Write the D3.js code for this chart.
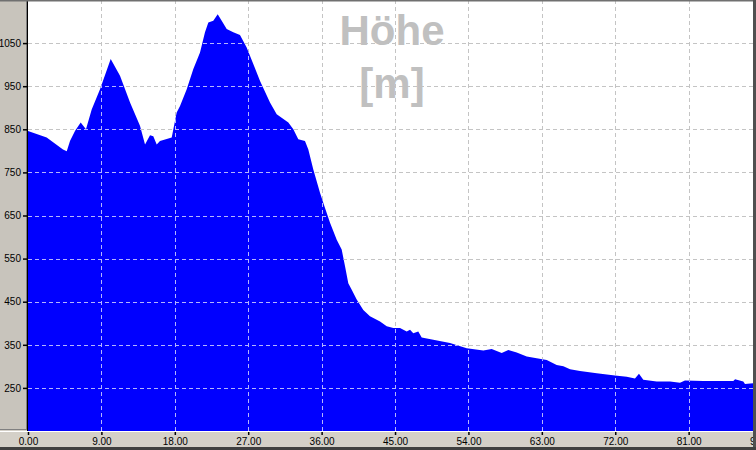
<!DOCTYPE html>
<html>
<head>
<meta charset="utf-8">
<script src="https://cdn.jsdelivr.net/npm/d3@7"></script>
<style>
  body { margin: 0; background: #d4d0c8; }
  svg { display: block; font-family: Arial, "Liberation Sans", sans-serif; }
</style>
</head>
<body>
<svg width="756" height="450"></svg>
<script>
// distance in km, elevation in m
var distance = [0.0, 2.29, 4.29, 4.75, 5.15, 5.76, 6.46, 7.11, 7.81, 8.83, 10.14, 11.28, 12.51, 13.73,
  14.35, 14.96, 15.36, 15.78, 16.18, 17.62, 18.23, 18.64, 19.46, 20.27, 21.09, 21.70, 22.11, 22.72,
  23.26, 23.75, 24.36, 25.17, 25.99, 26.81, 28.45, 29.67, 30.49, 31.92, 32.53, 33.14, 33.96, 34.37,
  34.98, 35.80, 36.21, 37.03, 37.85, 38.46, 38.87, 39.27, 39.69, 40.30, 41.11, 41.93, 43.16, 43.98,
  44.79, 45.61, 46.43, 46.84, 47.24, 47.85, 48.27, 49.69, 51.74, 53.79, 55.83, 56.85, 58.08, 58.89,
  59.92, 61.15, 62.37, 63.60, 64.82, 65.64, 66.46, 67.68, 69.73, 71.97, 73.41, 74.42, 74.91, 75.44,
  77.08, 78.72, 79.94, 80.55, 82.80, 86.48, 86.69, 87.70, 87.91, 88.89];
var elevation = [846, 831, 803, 799, 823, 846, 866, 850, 896, 943, 1013, 974, 912, 858,
  815, 836, 834, 815, 823, 831, 889, 904, 943, 990, 1028, 1075, 1098, 1102,
  1117, 1102, 1083, 1075, 1069, 1040, 962, 912, 885, 866, 850, 827, 823, 803,
  757, 703, 679, 633, 594, 571, 532, 493, 478, 455, 431, 416, 404, 393,
  389, 389, 381, 385, 377, 381, 367, 362, 354, 342, 337, 340, 331, 338,
  332, 323, 319, 315, 303, 300, 293, 289, 284, 279, 276, 272, 283, 269,
  265, 265, 262, 267, 266, 266, 270, 265, 259, 261];
var xTicks = [0, 9, 18, 27, 36, 45, 54, 63, 72, 81, 90];
var yTicks = [250, 350, 450, 550, 650, 750, 850, 950, 1050];
var titleLines = ["Höhe", "[m]"];

var svg = d3.select("svg"),
  width = +svg.attr("width"),
  height = +svg.attr("height"),
  plot = {left: 28, right: 753, top: 0, bottom: 431};

var data = distance.map(function(d, i) { return {km: d, h: elevation[i]}; });

var x = d3.scaleLinear()
  .domain([0, 88.89])
  .range([plot.left, plot.right]);

var y = d3.scaleLinear()
  .domain([150, 1150])
  .range([plot.bottom, plot.top]);

// frame pieces
svg.append("rect").attr("width", width).attr("height", height).attr("fill", "#d4d0c8");
svg.append("rect").attr("x", 0).attr("y", 0).attr("width", 26).attr("height", 429).attr("fill", "#c8c4bc");
svg.append("line").attr("x1", 26.5).attr("x2", 26.5).attr("y1", 0).attr("y2", 429).attr("stroke", "#808080");
svg.append("line").attr("x1", 0).attr("x2", 27).attr("y1", 429.5).attr("y2", 429.5).attr("stroke", "#808080");

svg.append("rect")
  .attr("x", plot.left).attr("y", plot.top)
  .attr("width", plot.right - plot.left).attr("height", plot.bottom - plot.top)
  .attr("fill", "#ffffff");

var area = d3.area()
  .x(function(d) { return x(d.km); })
  .y0(plot.bottom)
  .y1(function(d) { return y(d.h); });

svg.append("clipPath").attr("id", "under")
  .append("path").datum(data).attr("d", area);

function drawGrid(g, color) {
  g.selectAll(".gx")
    .data(xTicks.filter(function(t) { return t > 0 && x(t) < plot.right; }))
    .enter().append("line")
    .attr("x1", function(d) { return Math.round(x(d)) + 0.5; })
    .attr("x2", function(d) { return Math.round(x(d)) + 0.5; })
    .attr("y1", plot.top).attr("y2", plot.bottom)
    .attr("stroke", color).attr("stroke-dasharray", "4,3");
  g.selectAll(".gy")
    .data(yTicks)
    .enter().append("line")
    .attr("x1", plot.left).attr("x2", plot.right)
    .attr("y1", function(d) { return Math.round(y(d)) + 0.5; })
    .attr("y2", function(d) { return Math.round(y(d)) + 0.5; })
    .attr("stroke", color).attr("stroke-dasharray", "4,3");
}

drawGrid(svg.append("g"), "#c4c4c4");

svg.append("path")
  .datum(data)
  .attr("fill", "#0000ff")
  .attr("d", area);

drawGrid(svg.append("g").attr("clip-path", "url(#under)"), "#b4b4ff");

// title
svg.append("g")
  .selectAll("text")
  .data(titleLines)
  .enter().append("text")
  .attr("x", 392)
  .attr("y", function(d, i) { return 45 + i * 53; })
  .attr("text-anchor", "middle")
  .attr("font-size", 42)
  .attr("font-weight", "bold")
  .attr("fill", "#c0c0c0")
  .text(function(d) { return d; });

// y axis
svg.append("g")
  .attr("transform", "translate(" + plot.left + ",0)")
  .call(d3.axisLeft(y).tickValues(yTicks).tickSize(5).tickPadding(2).tickFormat(d3.format("d")))
  .call(function(g) {
    g.select(".domain").remove();
    g.selectAll("text").attr("font-size", 10).attr("font-family", "Arial, sans-serif").attr("fill", "#000");
    g.selectAll("line").attr("stroke", "#000").attr("stroke-width", 1.5);
  });

svg.append("line")
  .attr("x1", plot.left - 0.5).attr("x2", plot.left - 0.5)
  .attr("y1", 0).attr("y2", plot.bottom + 1)
  .attr("stroke", "#000");

// x axis
svg.append("g")
  .attr("transform", "translate(0," + plot.bottom + ")")
  .call(d3.axisBottom(x).tickValues(xTicks).tickSize(4).tickPadding(3).tickFormat(d3.format(".2f")))
  .call(function(g) {
    g.select(".domain").remove();
    g.selectAll("text").attr("font-size", 10).attr("font-family", "Arial, sans-serif").attr("fill", "#000");
    g.selectAll("line").attr("stroke", "#000").attr("stroke-width", 1.5);
  });

svg.append("line")
  .attr("x1", 0).attr("x2", plot.right)
  .attr("y1", plot.bottom + 0.5).attr("y2", plot.bottom + 0.5)
  .attr("stroke", "#ffffff");

// outer borders
svg.append("rect").attr("x", 0).attr("y", 0).attr("width", width).attr("height", 1.5).attr("fill", "#707070");
svg.append("rect").attr("x", 753).attr("y", 0).attr("width", 3).attr("height", height).attr("fill", "#505050");
svg.append("rect").attr("x", 0).attr("y", 447).attr("width", width).attr("height", 3).attr("fill", "#404040");
</script>
</body>
</html>
